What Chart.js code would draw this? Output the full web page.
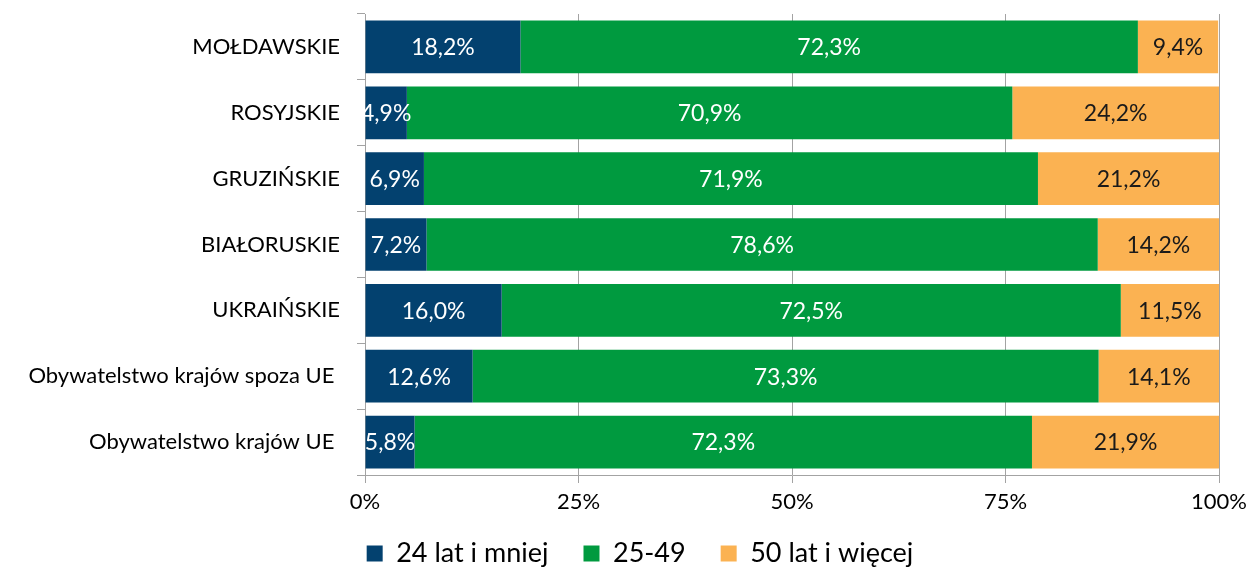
<!DOCTYPE html>
<html>
<head>
<meta charset="utf-8">
<script src="https://cdn.jsdelivr.net/npm/chart.js@4"></script>
<style>
  body { margin: 0; background: #fff; }
</style>
</head>
<body>
<canvas id="ages" width="1248" height="567"></canvas>
<script>
const categories = ['MOŁDAWSKIE', 'ROSYJSKIE', 'GRUZIŃSKIE', 'BIAŁORUSKIE', 'UKRAIŃSKIE', 'Obywatelstwo krajów spoza UE ', 'Obywatelstwo krajów UE ']
const young = [18.2, 4.9, 6.9, 7.2, 16.0, 12.6, 5.8]
const middle = [72.3, 70.9, 71.9, 78.6, 72.5, 73.3, 72.3]
const older = [9.4, 24.2, 21.2, 14.2, 11.5, 14.1, 21.9]
const seriesNames = ['24 lat i mniej', '25-49', '50 lat i więcej']

const gray = '#A3A3A3'
const fontFamily = 'Lato, "Open Sans", sans-serif'

// value labels centred in each segment, clipped to the plot area
const segmentLabels = {
  id: 'segmentLabels',
  afterDatasetsDraw(chart) {
    const ctx = chart.ctx
    const area = chart.chartArea
    ctx.save()
    ctx.beginPath()
    ctx.rect(area.left, area.top, area.right - area.left, area.bottom - area.top)
    ctx.clip()
    ctx.font = '23px ' + fontFamily
    ctx.textAlign = 'center'
    ctx.textBaseline = 'middle'
    chart.data.datasets.forEach((ds, i) => {
      const meta = chart.getDatasetMeta(i)
      ctx.fillStyle = i === 2 ? '#1a1a1a' : '#ffffff'
      meta.data.forEach((bar, j) => {
        const txt = ds.data[j].toFixed(1).replace('.', ',') + '%'
        ctx.fillText(txt, (bar.x + bar.base) / 2, bar.y + 1)
      })
    })
    ctx.restore()
  }
}

// the legend sits a bit right of the canvas centre and close to the bottom edge
const legendNudge = {
  id: 'legendNudge',
  afterLayout(chart) {
    const lg = chart.legend
    lg.left += 28
    lg.right += 28
    lg.top -= 25
    lg.bottom -= 25
  }
}

new Chart(document.getElementById('ages'), {
  type: 'bar',
  data: {
    labels: categories,
    datasets: [
      { label: seriesNames[0], data: young, backgroundColor: '#03416F' },
      { label: seriesNames[1], data: middle, backgroundColor: '#009A3F' },
      { label: seriesNames[2], data: older, backgroundColor: '#FBB252' },
    ],
  },
  options: {
    indexAxis: 'y',
    responsive: false,
    animation: false,
    categoryPercentage: 0.8,
    barPercentage: 1,
    layout: { padding: { left: 5, right: 29, top: 14, bottom: -35 } },
    font: { family: fontFamily },
    plugins: {
      legend: {
        position: 'bottom',
        labels: {
          boxWidth: 16,
          boxHeight: 16,
          padding: 35,
          color: '#000',
          font: { family: fontFamily, size: 27 },
        },
      },
      tooltip: { enabled: false },
    },
    scales: {
      x: {
        stacked: true,
        min: 0,
        max: 100,
        ticks: {
          stepSize: 25,
          color: '#000',
          padding: 6,
          font: { family: fontFamily, size: 22 },
          callback: (v) => v + '%',
        },
        grid: { color: gray, tickLength: 8 },
        border: { color: gray },
        afterFit: (scale) => {
          scale.height = 55
          scale.paddingLeft = 0
          scale.paddingRight = 0
        },
      },
      y: {
        stacked: true,
        ticks: {
          color: '#000',
          padding: 17,
          font: { family: fontFamily, size: 22 },
        },
        grid: { offset: true, drawOnChartArea: false, color: gray, tickLength: 8 },
        border: { color: gray },
        afterFit: (scale) => {
          scale.width = 360
          scale.paddingTop = 0
          scale.paddingBottom = 0
        },
      },
    },
  },
  plugins: [segmentLabels, legendNudge],
})
</script>
</body>
</html>
